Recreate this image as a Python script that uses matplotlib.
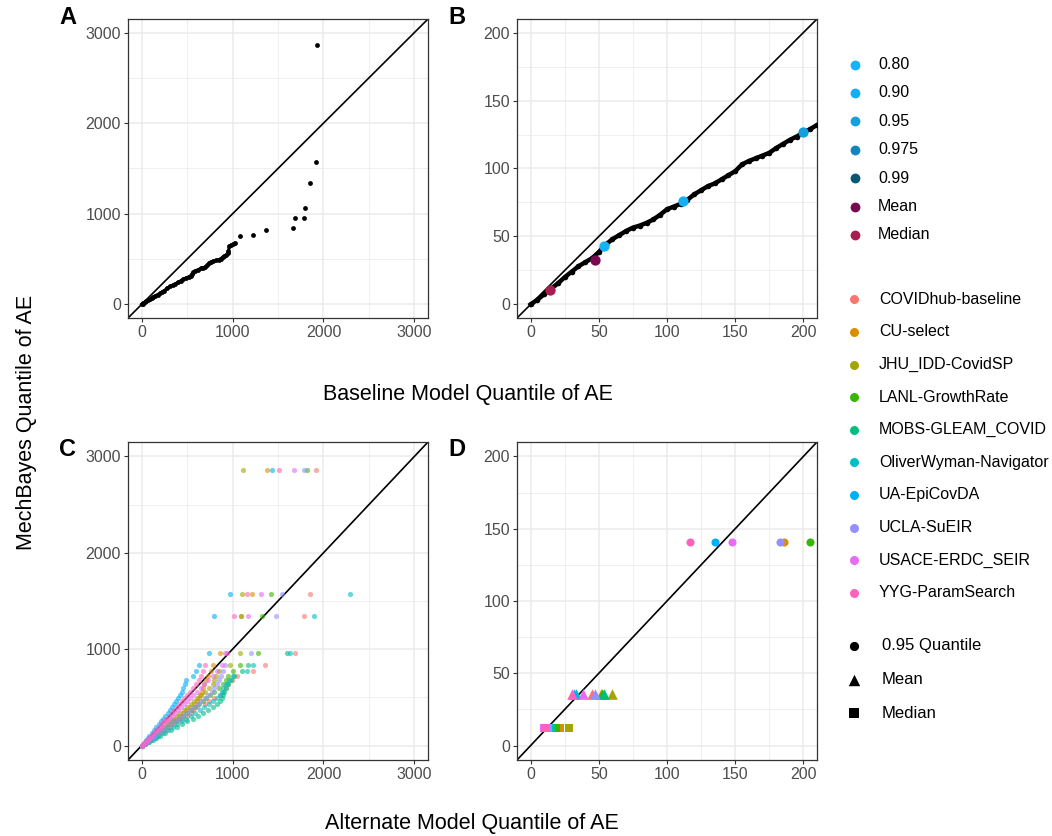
import numpy as np
import matplotlib
matplotlib.use("Agg")
import matplotlib.pyplot as plt

plt.rcParams['font.family'] = ['Liberation Sans', 'DejaVu Sans']

####################################################
##                    Data
####################################################

# Panel A: MechBayes quantiles of AE vs baseline model quantiles
a_baseline = [0, 10, 20, 35, 50, 70, 90, 110, 130, 150, 175, 200, 225, 250, 280, 310,
              340, 370, 400, 430, 460, 490, 520, 540, 555, 570, 590, 620, 650, 680, 700,
              720, 740, 760, 790, 820, 850, 870, 890, 910, 930, 945, 955, 965, 985, 1010,
              1024, 1087, 1229, 1368, 1668, 1690, 1782, 1797, 1851, 1917, 1925]
a_mechbayes = [0, 8, 15, 25, 35, 48, 60, 72, 84, 95, 108, 122, 138, 152, 180, 198,
               212, 228, 242, 262, 280, 292, 305, 318, 335, 355, 372, 382, 398, 405, 415,
               430, 455, 468, 478, 485, 495, 505, 520, 530, 540, 565, 590, 640, 655, 665,
               676, 753, 771, 822, 840, 954, 954, 1060, 1345, 1575, 2861]

# Panel B: zoom of the same quantile-quantile curve
b_baseline = [0, 5, 10, 15, 20, 25, 30, 35, 40, 45, 50, 55, 60, 65, 70, 75, 80, 85, 90,
              95, 100, 105, 110, 115, 120, 125, 130, 135, 140, 145, 150, 155, 160, 165,
              170, 175, 180, 185, 190, 195, 200, 205, 210]
b_mechbayes = [0, 3.5, 7.5, 11.5, 15.5, 20, 24, 28, 31, 34, 38.5, 44, 48, 51, 54, 56.5,
               58, 60, 62.5, 66, 70, 72, 74, 77, 81, 84, 87, 89, 92, 95, 98, 103, 105.5,
               107.5, 109.5, 111.5, 115, 118, 121, 123.5, 126.5, 129, 132]

# highlighted summary points in panel B
stat_labels = ['0.80', '0.90', '0.95', '0.975', '0.99', 'Mean', 'Median']
stat_colors = ['#17B3F8', '#16AEF2', '#149FE0', '#1285BD', '#0A5677', '#7A0A50', '#A61E50']
stat_baseline = [54, 112, 200, 260, 420, 47.5, 14.3]
stat_mechbayes = [42.9, 75.8, 126.9, 141, 240, 32.4, 10.5]

# Panel C: MechBayes quantiles vs each alternate model
models = ['COVIDhub-baseline', 'CU-select', 'JHU_IDD-CovidSP', 'LANL-GrowthRate',
          'MOBS-GLEAM_COVID', 'OliverWyman-Navigator', 'UA-EpiCovDA', 'UCLA-SuEIR',
          'USACE-ERDC_SEIR', 'YYG-ParamSearch']
model_colors = ['#F8766D', '#D89000', '#A3A500', '#39B600', '#00BF7D',
                '#00BFC4', '#00B0F6', '#9590FF', '#E76BF3', '#FF62BC']

c_mechbayes = [0, 20, 40, 60, 80, 100, 130, 160, 190, 220, 250, 280, 310, 340, 370, 400,
               430, 460, 490, 520, 560, 600, 640, 680, 720, 770, 840, 960, 1345, 1575, 2860]
nan = np.nan
c_alternate = {
    'COVIDhub-baseline': [0, 32, 66, 98, 130, 165, 215, 265, 310, 355, 400, 440, 500, 545, 570,
                          610, 700, 740, 800, 865, 895, 930, 955, 990, 1050, 1230, 1358, 1687,
                          1785, 1851, 1917],
    'CU-select': [0, 27, 54, 80, 106, 133, 173, 213, 253, 293, 333, 372, 412, 452, 492, 532,
                  572, 612, 630, 645, 660, 675, 690, 705, 730, 760, 789, 858, 1095, 1212, 1380],
    'JHU_IDD-CovidSP': [0, 25, 50, 75, 100, 125, 162, 200, 238, 275, 312, 350, 388, 425, 462,
                        500, 538, 575, 612, 650, 700, 745, 780, 800, 820, 850, 975, 1077, 1092,
                        1103, 1114],
    'LANL-GrowthRate': [0, 29, 58, 88, 117, 147, 190, 235, 280, 323, 367, 410, 455, 500, 545,
                        588, 630, 670, 710, 750, 800, 850, 890, 930, 950, 1000, 1084, 1285,
                        1329, 1420, 1815],
    'MOBS-GLEAM_COVID': [0, 40, 80, 120, 160, 200, 260, 320, 385, 445, 500, 560, 620, 680, 730,
                         780, 830, 860, 880, 895, 910, 930, 950, 980, 1020, 1100, 1175, 1596,
                         nan, nan, nan],
    'OliverWyman-Navigator': [0, 36, 72, 108, 144, 180, 234, 288, 340, 390, 440, 490, 540, 590,
                              640, 690, 740, 790, 830, 860, 880, 900, 930, 960, 1000, 1160, 1230,
                              1632, 1895, 2289, nan],
    'UA-EpiCovDA': [0, 18, 36, 52, 70, 86, 112, 138, 162, 186, 212, 240, 262, 290, 310, 335,
                    360, 380, 400, 420, 440, 460, 475, 490, 560, 600, 628, 745, 800, 975, 1438],
    'UCLA-SuEIR': [0, 28, 57, 86, 114, 143, 186, 229, 272, 315, 357, 400, 443, 486, 529, 572,
                   615, 658, 700, 735, 770, 800, 830, 850, 870, 900, 920, 1205, 1475, 1541, 1782],
    'USACE-ERDC_SEIR': [0, 22, 44, 66, 88, 110, 142, 175, 208, 240, 272, 305, 338, 370, 400,
                        435, 465, 500, 530, 560, 605, 650, 690, 730, 780, 830, 884, 920, 1175,
                        1311, 1676],
    'YYG-ParamSearch': [0, 20, 40, 62, 80, 100, 128, 158, 188, 215, 245, 272, 300, 330, 355,
                        385, 410, 440, 470, 500, 530, 570, 600, 630, 650, 680, 701, 938, 1011,
                        1158, 1508],
}

# Panel D: summary statistics per model (same model order as above)
d_stats = ['0.95 Quantile', 'Mean', 'Median']
d_markers = ['o', '^', 's']
d_mechbayes = [141, 36, 12]
d_q95 = [258, 185.6, 221, 204.7, 240, 215, 135.5, 182.7, 147.4, 116.7]
d_mean = [45.3, 51.4, 59.9, 52.5, 53.8, 33, 32, 47, 38.7, 30.5]
d_median = [17, 21.4, 28.2, 18.5, 16, 14, 12.4, 13, 10, 10.5]
d_alternate = [d_q95, d_mean, d_median]

####################################################
##                 Plotting
####################################################

W, H = 1052, 836
fig = plt.figure(figsize=(W / 100, H / 100), dpi=100)

# marker areas for the three summary shapes
shape_size = {'o': 34, '^': 58, 's': 38}


def px_box(x0, y0, x1, y1):
    return [x0 / W, 1 - y1 / H, (x1 - x0) / W, (y1 - y0) / H]


def style_panel(ax, lim, major, minor):
    ax.set_xlim(lim)
    ax.set_ylim(lim)
    ax.set_xticks(major)
    ax.set_yticks(major)
    ax.set_xticks(minor, minor=True)
    ax.set_yticks(minor, minor=True)
    ax.grid(which='major', color='#EBEBEB', lw=1.1)
    ax.grid(which='minor', color='#EBEBEB', lw=0.55)
    ax.set_axisbelow(True)
    ax.tick_params(which='minor', length=0)
    ax.tick_params(which='major', length=3, width=0.8, color='#333333',
                   labelsize=11.5, labelcolor='#4D4D4D', pad=2)
    for s in ax.spines.values():
        s.set_color('#333333')
        s.set_linewidth(0.9)
    ax.axline((0, 0), (1, 1), color='black', lw=1.2, zorder=2)


big_lim = (-150, 3150)
big_major = [0, 1000, 2000, 3000]
big_minor = [500, 1500, 2500]
small_lim = (-10, 210)
small_major = [0, 50, 100, 150, 200]
small_minor = [25, 75, 125, 175]

axA = fig.add_axes(px_box(128, 19, 428, 318))
axB = fig.add_axes(px_box(517, 19, 817, 318))
axC = fig.add_axes(px_box(128, 442, 428, 760))
axD = fig.add_axes(px_box(517, 442, 817, 760))

# A
style_panel(axA, big_lim, big_major, big_minor)
axA.plot(a_baseline[:47], a_mechbayes[:47], color='black', lw=2.2, zorder=3)
axA.scatter(a_baseline, a_mechbayes, s=12, color='black', lw=0, zorder=3)

# B
style_panel(axB, small_lim, small_major, small_minor)
axB.plot(b_baseline, b_mechbayes, color='black', lw=3.2, zorder=3)
axB.scatter(b_baseline, b_mechbayes, s=16, color='black', lw=0, zorder=3)
for lab, col, bx, by in zip(stat_labels, stat_colors, stat_baseline, stat_mechbayes):
    axB.scatter([bx], [by], s=55, color=col, lw=0, zorder=4)

# C
style_panel(axC, big_lim, big_major, big_minor)
for m, col in zip(models, model_colors):
    axC.scatter(c_alternate[m], c_mechbayes, s=14, color=col, alpha=0.6, lw=0, zorder=3)

# D
style_panel(axD, small_lim, small_major, small_minor)
for stat, mk, yv, xs in zip(d_stats, d_markers, d_mechbayes, d_alternate):
    for xv, col in zip(xs, model_colors):
        axD.scatter([xv], [yv], s=shape_size[mk], marker=mk, color=col, lw=0, zorder=3)

# panel letters and axis titles
for letter, (x, y) in zip('ABCD', [(68, 18), (457, 18), (68, 450), (457, 450)]):
    fig.text(x / W, 1 - y / H, letter, fontsize=17, fontweight='bold', ha='center', va='center')
fig.text(468 / W, 1 - 394 / H, 'Baseline Model Quantile of AE', fontsize=15.5, ha='center', va='center')
fig.text(472 / W, 1 - 823 / H, 'Alternate Model Quantile of AE', fontsize=15.5, ha='center', va='center')
fig.text(27 / W, 1 - 422 / H, 'MechBayes Quantile of AE', fontsize=15.5, rotation=90,
         ha='center', va='center')

# legends drawn on an overlay axes in pixel units
leg = fig.add_axes([0, 0, 1, 1])
leg.set_xlim(0, W)
leg.set_ylim(H, 0)
leg.axis('off')

for i, (lab, col) in enumerate(zip(stat_labels, stat_colors)):
    y = 64.5 + i * 28.4
    leg.scatter([855], [y], s=50, color=col, lw=0)
    leg.text(878, y, lab, fontsize=11.5, va='center', ha='left', color='black')

for i, (m, col) in enumerate(zip(models, model_colors)):
    y = 299.3 + i * 32.6
    leg.scatter([853.5], [y], s=42, color=col, lw=0)
    leg.text(879, y, m, fontsize=11.5, va='center', ha='left', color='black')

for i, (stat, mk) in enumerate(zip(d_stats, d_markers)):
    y = 645.7 + i * 33.8
    leg.scatter([853.5], [y], s=shape_size[mk] + 10, marker=mk, color='black', lw=0)
    leg.text(882, y, stat, fontsize=12, va='center', ha='left', color='black')

fig.savefig('out.png', dpi=100)
